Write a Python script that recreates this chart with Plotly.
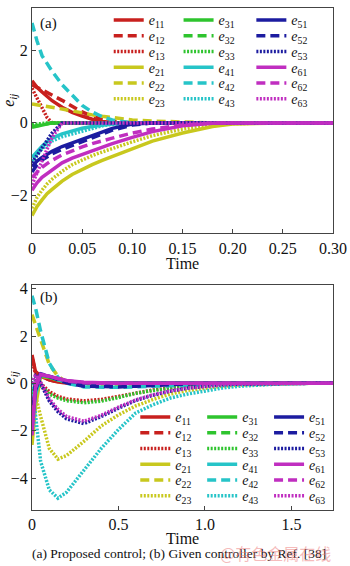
import plotly.graph_objects as go

# ---------------- data ----------------
names = ["11", "12", "13", "21", "22", "23", "31", "32", "33",
         "41", "42", "43", "51", "52", "53", "61", "62", "63"]

# Panel (a): proposed control
ta = [0, 0.005, 0.01, 0.015, 0.02, 0.03, 0.04, 0.05, 0.06, 0.07, 0.08, 0.1, 0.12, 0.15, 0.18, 0.2, 0.25, 0.3]
a_e11 = [1.16, 0.98, 0.85, 0.72, 0.61, 0.43, 0.29, 0.19, 0.1, 0.04, 0.01, 0, 0, 0, 0, 0, 0, 0]
a_e12 = [1.05, 0.98, 0.92, 0.84, 0.76, 0.62, 0.46, 0.3, 0.18, 0.1, 0.05, 0, 0, 0, 0, 0, 0, 0]
a_e13 = [0.95, 0.68, 0.42, 0.15, 0, 0, 0, 0, 0, 0, 0, 0, 0, 0, 0, 0, 0, 0]
a_e21 = [-2.55, -2.3, -2.12, -1.95, -1.83, -1.6, -1.42, -1.28, -1.15, -1.03, -0.92, -0.7, -0.5, -0.28, -0.1, -0.03, 0, 0]
a_e22 = [0.52, 0.5, 0.47, 0.45, 0.43, 0.38, 0.33, 0.27, 0.22, 0.18, 0.14, 0.08, 0.05, 0.02, 0, 0, 0, 0]
a_e23 = [-2.35, -2.05, -1.85, -1.68, -1.55, -1.33, -1.15, -1.02, -0.9, -0.8, -0.7, -0.52, -0.35, -0.17, -0.06, -0.02, 0, 0]
a_e31 = [-0.12, -0.09, -0.06, -0.02, 0, 0, 0, 0, 0, 0, 0, 0, 0, 0, 0, 0, 0, 0]
a_e32 = [-0.1, -0.07, -0.04, -0.02, 0, 0, 0, 0, 0, 0, 0, 0, 0, 0, 0, 0, 0, 0]
a_e33 = [-0.05, -0.03, -0.02, 0, 0, 0, 0, 0, 0, 0, 0, 0, 0, 0, 0, 0, 0, 0]
a_e41 = [-0.95, -0.78, -0.64, -0.52, -0.42, -0.3, -0.22, -0.15, -0.1, -0.06, -0.03, 0, 0, 0, 0, 0, 0, 0]
a_e42 = [2.75, 2.25, 1.85, 1.62, 1.42, 1.05, 0.75, 0.48, 0.3, 0.17, 0.08, 0, 0, 0, 0, 0, 0, 0]
a_e43 = [-1.05, -0.85, -0.72, -0.6, -0.5, -0.38, -0.3, -0.22, -0.15, -0.08, -0.04, 0, 0, 0, 0, 0, 0, 0]
a_e51 = [-1.2, -1.05, -0.95, -0.86, -0.78, -0.65, -0.55, -0.46, -0.36, -0.25, -0.15, -0.03, 0, 0, 0, 0, 0, 0]
a_e52 = [-1.35, -1.15, -1.02, -0.93, -0.85, -0.73, -0.62, -0.52, -0.41, -0.3, -0.2, -0.06, 0, 0, 0, 0, 0, 0]
a_e53 = [-1.1, -0.9, -0.7, -0.5, -0.28, 0, 0, 0, 0, 0, 0, 0, 0, 0, 0, 0, 0, 0]
a_e61 = [-1.85, -1.65, -1.5, -1.4, -1.3, -1.1, -0.97, -0.87, -0.77, -0.68, -0.57, -0.4, -0.24, -0.08, -0.01, 0, 0, 0]
a_e62 = [-1.5, -1.35, -1.22, -1.12, -1.03, -0.88, -0.76, -0.66, -0.57, -0.49, -0.42, -0.28, -0.17, -0.06, 0, 0, 0, 0]
a_e63 = [-1.7, -1.38, -1.05, -0.72, -0.4, 0, 0, 0, 0, 0, 0, 0, 0, 0, 0, 0, 0, 0]

# Panel (b): given controller by Ref. [38]
tb = [0, 0.02, 0.05, 0.1, 0.15, 0.2, 0.3, 0.4, 0.5, 0.6, 0.7, 0.8, 0.9, 1.0, 1.1, 1.2, 1.4, 1.6, 1.75]
b_e11 = [1.2, 0.5, 0.3, 0.15, 0.06, 0.02, 0, 0, 0, 0, 0, 0, 0, 0, 0, 0, 0, 0, 0]
b_e12 = [1.1, 0.5, 0.3, 0.15, 0.06, 0.02, 0, 0, 0, 0, 0, 0, 0, 0, 0, 0, 0, 0, 0]
b_e13 = [1.0, 0.4, 0.0, -0.35, -0.55, -0.66, -0.74, -0.68, -0.55, -0.4, -0.28, -0.19, -0.12, -0.07, -0.04, -0.02, 0, 0, 0]
b_e21 = [-2.6, -1.0, 0.3, 0.25, 0.15, 0.08, 0.02, 0, 0, 0, 0, 0, 0, 0, 0, 0, 0, 0, 0]
b_e22 = [2.9, 2.5, 1.8, 0.8, 0.3, 0.05, -0.05, -0.08, -0.08, -0.07, -0.05, -0.03, -0.02, 0, 0, 0, 0, 0, 0]
b_e23 = [0, -0.5, -1.4, -2.75, -3.2, -3.05, -2.45, -1.8, -1.33, -0.95, -0.68, -0.45, -0.3, -0.2, -0.12, -0.07, -0.02, 0, 0]
b_e31 = [-0.5, 0, 0.35, 0.25, 0.12, 0.05, 0, 0, 0, 0, 0, 0, 0, 0, 0, 0, 0, 0, 0]
b_e32 = [-1.0, -0.2, 0.35, 0.28, 0.15, 0.08, 0.02, 0, 0, 0, 0, 0, 0, 0, 0, 0, 0, 0, 0]
b_e33 = [0, 0.2, -0.1, -0.45, -0.62, -0.73, -0.82, -0.75, -0.6, -0.42, -0.3, -0.2, -0.13, -0.08, -0.04, -0.02, 0, 0, 0]
b_e41 = [-2.0, -0.5, 0.35, 0.3, 0.15, 0.08, 0.02, 0, 0, 0, 0, 0, 0, 0, 0, 0, 0, 0, 0]
b_e42 = [3.7, 3.2, 2.2, 0.85, 0.25, 0.0, -0.15, -0.17, -0.17, -0.15, -0.13, -0.1, -0.07, -0.05, -0.02, 0, 0, 0, 0]
b_e43 = [0, -1.2, -3.3, -4.5, -4.85, -4.6, -3.7, -2.75, -1.95, -1.25, -0.9, -0.62, -0.45, -0.33, -0.2, -0.12, -0.04, 0, 0]
b_e51 = [-1.8, -0.3, 0.38, 0.3, 0.2, 0.1, 0.03, 0, 0, 0, 0, 0, 0, 0, 0, 0, 0, 0, 0]
b_e52 = [-1.5, 0.1, 0.4, 0.3, 0.15, 0.02, -0.12, -0.15, -0.15, -0.12, -0.08, -0.05, -0.03, -0.01, 0, 0, 0, 0, 0]
b_e53 = [0, 0.3, 0.0, -0.75, -1.2, -1.5, -1.7, -1.4, -1.05, -0.72, -0.5, -0.33, -0.2, -0.12, -0.06, -0.03, 0, 0, 0]
b_e61 = [-2.2, -0.2, 0.38, 0.3, 0.2, 0.12, 0.05, 0.02, 0, 0, 0, 0, 0, 0, 0, 0, 0, 0, 0]
b_e62 = [-1.9, 0, 0.38, 0.3, 0.2, 0.1, 0.03, 0, 0, 0, 0, 0, 0, 0, 0, 0, 0, 0, 0]
b_e63 = [0, 0.35, 0.05, -0.65, -1.1, -1.4, -1.6, -1.35, -1.0, -0.7, -0.48, -0.32, -0.2, -0.12, -0.06, -0.03, 0, 0, 0]

series_a = [a_e11, a_e12, a_e13, a_e21, a_e22, a_e23, a_e31, a_e32, a_e33,
            a_e41, a_e42, a_e43, a_e51, a_e52, a_e53, a_e61, a_e62, a_e63]
series_b = [b_e11, b_e12, b_e13, b_e21, b_e22, b_e23, b_e31, b_e32, b_e33,
            b_e41, b_e42, b_e43, b_e51, b_e52, b_e53, b_e61, b_e62, b_e63]

xticks_a = [0, 0.05, 0.10, 0.15, 0.20, 0.25, 0.30]
xticklabels_a = ["0", "0.05", "0.10", "0.15", "0.20", "0.25", "0.30"]
xticks_b = [0, 0.5, 1.0, 1.5]
xticklabels_b = ["0", "0.5", "1.0", "1.5"]
yticks_a = [-2, 0, 2]
yticks_b = [-4, -2, 0, 2, 4]

# ---------------- style ----------------
colors = {"1": "#c8201e", "2": "#c8c81e", "3": "#2ec42e",
          "4": "#26c4c8", "5": "#1c1ca0", "6": "#c02ec0"}
dashes = {"1": "solid", "2": "9px,5px", "3": "2px,1.5px"}
SERIF = "Liberation Serif"

W, H = 350, 566
M = dict(l=32, r=12, t=3, b=56)
plot_w = W - M["l"] - M["r"]
plot_h = H - M["t"] - M["b"]

# legend grid (pixels): column left edges and row centres, per panel
leg_cols = {"a": [110, 181, 255], "b": [137, 205, 273]}
leg_row0 = {"a": 15.5, "b": 416.5}
leg_dy = 15.9

def px_x(x):
    return (x - M["l"]) / plot_w

def px_y(y):
    return (H - M["b"] - y) / plot_h

fig = go.Figure()
legend_layout = {}
leg_font = dict(family=SERIF, size=14, color="#111")
k = 0
for panel, series, t, xa, ya in [("a", series_a, ta, "x", "y"),
                                 ("b", series_b, tb, "x2", "y2")]:
    for n, ys in zip(names, series):
        k += 1
        lid = "legend" if k == 1 else "legend%d" % k
        col = (int(n[0]) - 1) // 2
        row = ((int(n[0]) - 1) % 2) * 3 + (int(n[1]) - 1)
        legend_layout[lid] = dict(
            x=px_x(leg_cols[panel][col]), y=px_y(leg_row0[panel] + row * leg_dy),
            xanchor="left", yanchor="middle", orientation="v", itemwidth=30,
            bgcolor="rgba(0,0,0,0)", borderwidth=0, font=leg_font)
        fig.add_trace(go.Scatter(
            x=t, y=ys, mode="lines", xaxis=xa, yaxis=ya,
            name="<i>e</i><sub>%s</sub>" % n, legend=lid,
            line=dict(color=colors[n[0]], dash=dashes[n[1]], width=3.5),
        ))

axis_common = dict(showline=True, linecolor="#444", linewidth=1, mirror=True,
                   ticks="inside", ticklen=4, tickcolor="#444",
                   showgrid=False, zeroline=False, ticklabeloverflow="allow",
                   tickfont=dict(family=SERIF, size=16, color="#111"))

fig.update_layout(
    width=W, height=H, margin=M,
    paper_bgcolor="white", plot_bgcolor="white",
    showlegend=True,
    xaxis=dict(domain=[0, 1], range=[0, 0.3], tickvals=xticks_a, ticktext=xticklabels_a,
               anchor="y", **axis_common),
    yaxis=dict(domain=[0.551, 1], range=[-3.04, 3.16], tickvals=yticks_a,
               anchor="x", **axis_common),
    xaxis2=dict(domain=[0, 1], range=[0, 1.74], tickvals=xticks_b, ticktext=xticklabels_b,
                anchor="y2", **axis_common),
    yaxis2=dict(domain=[0, 0.448], range=[-5.35, 4.15], tickvals=yticks_b,
                anchor="x2", **axis_common),
    **legend_layout,
)

ann_font = dict(family=SERIF, size=15, color="#111")
fig.add_annotation(text="(a)", x=0.02, y=0.99, xref="paper", yref="paper",
                   xanchor="left", yanchor="top", showarrow=False, font=ann_font)
fig.add_annotation(text="(b)", x=0.02, y=0.444, xref="paper", yref="paper",
                   xanchor="left", yanchor="top", showarrow=False, font=ann_font)
fig.add_annotation(text="Time", x=0.5, y=0.551, xref="paper", yref="paper",
                   xanchor="center", yanchor="top", yshift=-20, showarrow=False,
                   font=dict(family=SERIF, size=16, color="#111"))
fig.add_annotation(text="Time", x=0.5, y=0.0, xref="paper", yref="paper",
                   xanchor="center", yanchor="top", yshift=-18, showarrow=False,
                   font=dict(family=SERIF, size=16, color="#111"))
for yy in [0.815, 0.262]:
    fig.add_annotation(text="<i>e</i><sub><i>ij</i></sub>", x=0, y=yy, xref="paper", yref="paper",
                       xanchor="center", yanchor="middle", xshift=-22, textangle=-90,
                       showarrow=False, font=dict(family=SERIF, size=16, color="#111"))
fig.add_annotation(text="(a) Proposed control; (b) Given controller by Ref. [38]",
                   x=0.49, y=0.0, xref="paper", yref="paper", xanchor="center", yanchor="top",
                   yshift=-34, showarrow=False, font=dict(family=SERIF, size=13.5, color="#111"))
fig.add_annotation(text="@有色金属在线", x=1.0, y=0.0, xref="paper", yref="paper",
                   xanchor="right", yanchor="top", yshift=-29, xshift=0, showarrow=False,
                   font=dict(family="Noto Sans CJK SC", size=16, color="rgba(235,120,120,0.5)"))

fig.write_html("out.html")
